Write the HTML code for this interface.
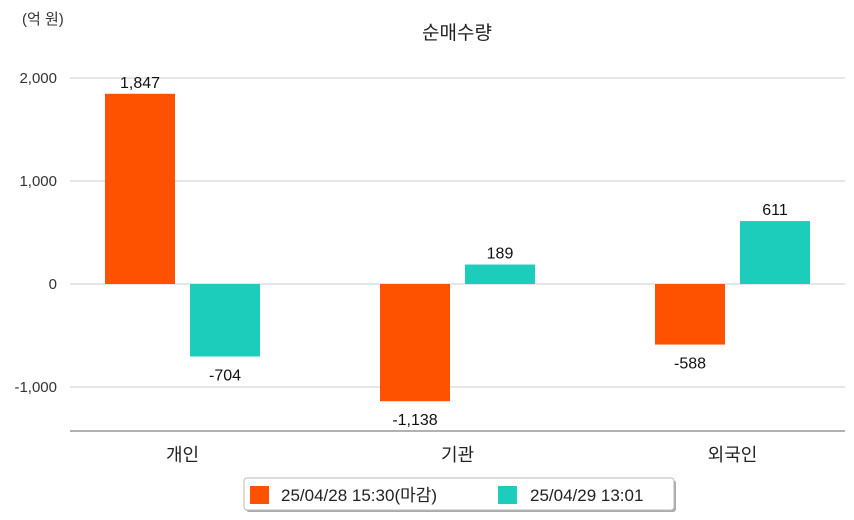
<!DOCTYPE html>
<html><head><meta charset="utf-8"><style>
body{margin:0;background:#fff;}
svg{display:block;font-family:"Liberation Sans","Noto Sans CJK KR",sans-serif;}
</style></head><body>
<svg id="c" width="854" height="520">
<text x="22" y="24" font-size="15" fill="#333">(억 원)</text>
<text x="457" y="39" font-size="19" text-anchor="middle" fill="#222">순매수량</text>
<g id="grid"></g><g id="bars"></g>
<line x1="70" y1="431" x2="845" y2="431" stroke="#666"/>
<g>
<rect x="246" y="480" width="430" height="32" fill="#aaa" rx="3"/>
<rect x="244" y="478" width="430" height="32" fill="#fff" stroke="#bbb" rx="3"/>
<rect x="250" y="486" width="19" height="18" fill="#ff5200"/>
<text x="281" y="501" font-size="17" fill="#222">25/04/28 15:30(마감)</text>
<rect x="498" y="486" width="19" height="18" fill="#1dcdbc"/>
<text x="530" y="501" font-size="17" fill="#222">25/04/29 13:01</text>
</g>
</svg>
<script>
const categories=["개인","기관","외국인"];
const series1=[1847,-1138,-588];
const series2=[-704,189,611];
const yTicks=[2000,1000,0,-1000];
const yTickLabels=["2,000","1,000","0","-1,000"];
const NS="http://www.w3.org/2000/svg";
function y(v){return 284-v*0.103;}
function cx(i){return 182.5+i*275;}
function fmt(v){return v.toLocaleString("en-US");}
function mk(t,a,p){const e=document.createElementNS(NS,t);for(const k in a)e.setAttribute(k,a[k]);p.appendChild(e);return e;}
const g=document.getElementById("grid"),b=document.getElementById("bars");
yTicks.forEach((t,i)=>{
 const l=mk("line",{x1:70,x2:845,y1:y(t),y2:y(t),stroke:"#ccc"},g);
 
 
 const tx=mk("text",{x:57,y:y(t)+5,"font-size":15,"text-anchor":"end",fill:"#333"},g);
 tx.textContent=yTickLabels[i];
 
 
});
categories.forEach((c,i)=>{
 const ct=mk("text",{x:cx(i),y:461,"font-size":18,"text-anchor":"middle",fill:"#222"},g);
 ct.textContent=c;
 
 
 [[series1[i],-77.5,"#ff5200"],[series2[i],7.5,"#1dcdbc"]].forEach(([v,off,col])=>{
  const x0=cx(i)+off,top=Math.min(y(v),y(0)),h=Math.abs(y(v)-y(0));
  const r=mk("rect",{x:x0,y:top,width:70,height:h,fill:col},b);
  
  
  const lt=mk("text",{x:x0+35,y:v>=0?y(v)-6:y(v)+24,"font-size":16,"text-anchor":"middle",fill:"#111"},b);
  lt.textContent=fmt(v);
  
  
 });
});
</script>
</body></html>
